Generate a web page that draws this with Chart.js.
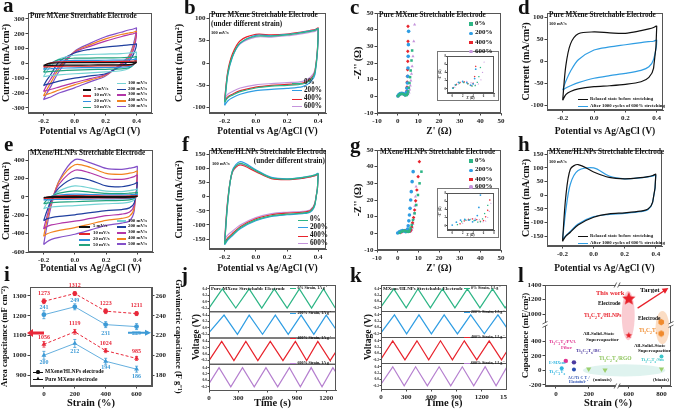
<!DOCTYPE html>
<html>
<head>
<meta charset="utf-8">
<title>Stretchable MXene electrodes</title>
<script src="https://cdn.jsdelivr.net/npm/chart.js@4.4.1/dist/chart.umd.min.js"></script>
<style>
  html, body { margin: 0; padding: 0; background: #fff; }
  body { width: 676px; height: 410px; overflow: hidden; position: relative; font-family: "Liberation Serif", "Times New Roman", serif; }
  canvas { position: absolute; }
  .tx { position: absolute; font-weight: bold; white-space: nowrap; line-height: 1; color: #111; }
  .tx sub, .tx sup { font-size: 70%; line-height: 0; }
  .vt { position: absolute; font-weight: bold; white-space: nowrap; line-height: 1; color: #111; transform: translate(-50%, -50%) rotate(-90deg); }
  .seg { position: absolute; }
</style>
</head>
<body>
<script>
/* ---------- CV data (potential grid shared by every loop) ---------- */
const cvX = [-0.2, -0.18, -0.15, -0.1, 0, 0.1, 0.2, 0.3, 0.35, 0.38, 0.4];

const rateNames = ['5 mV/s', '10 mV/s', '20 mV/s', '50 mV/s', '100 mV/s', '200 mV/s', '300 mV/s', '400 mV/s', '500 mV/s'];
const rateColors = ['#111111', '#e3262b', '#2f8fe0', '#23a37e', '#74d2d4', '#1f3f9f', '#b236a8', '#f2831f', '#8450c8'];

// a: pure MXene, forward (upper) and reverse (lower) branches
const aUp = [
  [-15, -4, 2, 4, 5, 5, 5, 6, 6, 7, 8],
  [-25, -8, 4, 10, 12, 12, 12, 13, 14, 15, 17],
  [-40, -15, 4, 15, 20, 20, 21, 22, 24, 26, 30],
  [-60, -30, 0, 25, 35, 36, 37, 38, 40, 42, 45],
  [-90, -55, -15, 30, 55, 60, 63, 66, 70, 72, 75],
  [-150, -115, -70, 10, 70, 95, 110, 120, 125, 127, 130],
  [-190, -150, -100, -20, 75, 115, 150, 180, 193, 200, 205],
  [-220, -180, -125, -35, 78, 125, 165, 195, 205, 210, 215],
  [-245, -205, -150, -55, 80, 135, 180, 210, 225, 232, 238]
];
const aDown = [
  [-15, -14, -13, -12, -12, -11, -10, -10, -9, -5, 8],
  [-25, -24, -22, -20, -19, -18, -17, -16, -14, -6, 17],
  [-40, -38, -36, -33, -30, -29, -28, -26, -22, -8, 30],
  [-60, -57, -54, -50, -45, -42, -40, -37, -30, -10, 45],
  [-90, -86, -82, -77, -70, -64, -58, -50, -35, 0, 75],
  [-150, -142, -135, -120, -100, -85, -70, -20, 15, 60, 130],
  [-190, -183, -175, -160, -130, -103, -75, -10, 30, 90, 205],
  [-220, -210, -200, -180, -145, -113, -80, -5, 40, 110, 215],
  [-245, -236, -225, -200, -165, -125, -85, 0, 50, 130, 238]
];

// e: MXene/HLNPs
const eUp = [
  [-8, -2, 2, 4, 5, 4, 3, 3, 4, 5, 6],
  [-18, -6, 4, 10, 13, 11, 9, 9, 10, 11, 13],
  [-35, -15, 5, 20, 29, 25, 21, 21, 23, 24, 26],
  [-75, -35, 5, 40, 65, 52, 38, 36, 40, 44, 47],
  [-130, -75, -5, 65, 120, 95, 62, 58, 68, 76, 84],
  [-260, -160, -30, 100, 205, 180, 120, 110, 125, 140, 155],
  [-350, -220, -40, 140, 290, 260, 200, 190, 205, 220, 235],
  [-430, -270, -60, 170, 350, 320, 255, 245, 258, 268, 280],
  [-520, -330, -90, 180, 405, 370, 310, 300, 312, 320, 330]
];
const eDown = [
  [-8, -7, -7, -6, -6, -6, -5, -5, -4, -2, 6],
  [-18, -16, -15, -14, -13, -12, -11, -10, -9, -4, 13],
  [-35, -32, -30, -28, -26, -24, -22, -20, -17, -8, 26],
  [-75, -68, -63, -58, -53, -47, -42, -38, -32, -15, 47],
  [-130, -118, -110, -103, -95, -85, -75, -68, -58, -30, 84],
  [-260, -240, -225, -212, -195, -172, -150, -138, -120, -65, 155],
  [-350, -325, -305, -290, -265, -235, -205, -188, -165, -90, 235],
  [-430, -405, -385, -365, -335, -295, -255, -235, -210, -120, 280],
  [-520, -490, -462, -440, -407, -360, -310, -285, -260, -150, 330]
];

const strainNames = ['0%', '200%', '400%', '600%'];
const strainColors = ['#2db585', '#2f9de3', '#e8232c', '#c594dc'];

const bUp = [
  [-88, -25, 15, 45, 60, 60, 63, 68, 71, 73, 76],
  [-95, -28, 13, 44, 62, 61, 64, 69, 72, 74, 77],
  [-85, -20, 20, 50, 64, 63, 65, 70, 73, 75, 78],
  [-80, -22, 15, 43, 58, 58, 61, 66, 69, 71, 74]
];
const bDown = [
  [-88, -78, -72, -64, -56, -52, -50, -47, -38, -20, 76],
  [-95, -85, -78, -70, -62, -59, -57, -53, -43, -25, 77],
  [-85, -76, -70, -62, -54, -50, -48, -45, -36, -18, 78],
  [-80, -70, -64, -56, -49, -46, -44, -41, -32, -15, 74]
];
const fUp = [
  [-168, -20, 90, 118, 92, 66, 62, 67, 72, 76, 80],
  [-170, -25, 92, 124, 95, 68, 63, 68, 73, 77, 82],
  [-162, -15, 88, 112, 88, 64, 60, 65, 70, 74, 78],
  [-150, -10, 85, 115, 90, 66, 61, 65, 70, 74, 77]
];
const fDown = [
  [-168, -150, -135, -110, -82, -68, -62, -58, -52, -25, 80],
  [-170, -154, -138, -113, -85, -70, -64, -60, -54, -27, 82],
  [-162, -146, -130, -106, -78, -64, -58, -55, -49, -22, 78],
  [-150, -136, -122, -100, -74, -60, -55, -52, -46, -20, 77]
];

const cycleNames = ['Relaxed state before stretching', 'After 1000 cycles of 600% stretching'];
const cycleColors = ['#111111', '#2f9de3'];
const dUp = [[-88, -10, 40, 63, 67, 65, 64, 70, 74, 77, 80], [-65, -45, -22, 4, 26, 33, 38, 43, 45, 46, 48]];
const dDown = [[-88, -75, -68, -62, -57, -55, -52, -46, -36, -15, 80], [-65, -60, -55, -48, -38, -32, -27, -20, -12, 5, 48]];
const hUp = [[-168, -10, 95, 112, 85, 65, 60, 64, 68, 72, 76], [-162, -60, 40, 90, 100, 70, 60, 63, 67, 70, 72]];
const hDown = [[-168, -150, -135, -108, -80, -68, -64, -58, -50, -25, 76], [-162, -148, -132, -105, -78, -70, -66, -60, -52, -25, 72]];

/* ---------- Nyquist data ---------- */
const cRe = [
  [0.2, 0.7, 1.4, 2.2, 3.0, 3.8, 4.4, 4.8, 5.1, 5.4, 5.7, 6.0, 6.3, 6.7, 7.0],
  [0.1, 0.6, 1.2, 2.0, 2.8, 3.5, 4.0, 4.3, 4.5, 4.7, 4.9, 5.0, 5.1, 5.2, 5.3],
  [0.2, 0.8, 1.5, 2.3, 3.0, 3.6, 4.0, 4.3, 4.5, 4.6, 4.7, 4.8, 4.9, 4.9, 5.0, 5.0],
  [0.5, 1.2, 2.0, 2.8, 3.6, 4.4, 5.0, 5.5, 5.8, 6.1, 6.4, 6.7, 7.0, 7.4, 7.8, 8.2]
];
const cIm = [
  [0.2, 0.9, 1.4, 1.5, 1.2, 0.7, 0.8, 1.6, 3.0, 5.2, 8.0, 11.5, 15.5, 21.5, 27.5],
  [0.2, 1.0, 1.6, 1.8, 1.5, 0.9, 1.2, 2.5, 4.8, 8, 12, 17, 24, 31, 39],
  [0.3, 1.1, 1.6, 1.7, 1.3, 0.8, 1.4, 3, 5.5, 8.5, 12, 16, 21, 27, 33, 42],
  [0.4, 1.2, 1.7, 1.8, 1.5, 1.0, 1.2, 2.2, 4, 6.5, 9.5, 13.5, 18, 24, 33, 43]
];
const gRe = [
  [1.0, 1.8, 2.6, 3.4, 4.2, 4.9, 5.4, 5.8, 6.2, 6.8, 7.4, 8.2, 9.0, 9.8, 10.6, 11.5],
  [0, 0.8, 1.6, 2.4, 3.2, 3.9, 4.4, 4.8, 5.1, 5.4, 5.7, 6.0, 6.3, 6.6, 7.0, 7.5],
  [1.5, 2.3, 3.1, 3.9, 4.7, 5.4, 6.0, 6.4, 6.8, 7.2, 7.7, 8.2, 8.7, 9.3, 9.9, 10.5],
  [2.0, 2.8, 3.6, 4.4, 5.2, 5.9, 6.4, 6.8, 7.1, 7.4, 7.7, 8.0, 8.3, 8.6, 8.9]
];
const gIm = [
  [0.3, 1.0, 1.4, 1.5, 1.3, 0.9, 1.0, 1.7, 3.0, 5.0, 8.0, 12, 17, 23, 30, 37],
  [0.2, 0.9, 1.4, 1.6, 1.4, 1.0, 1.4, 2.5, 4.5, 7.5, 11, 15, 20, 25, 31, 37],
  [0.5, 1.2, 1.6, 1.7, 1.5, 1.1, 1.3, 2.2, 3.8, 6.3, 9.5, 14, 19.5, 26, 34, 43],
  [0.6, 1.3, 1.7, 1.8, 1.5, 1.0, 1.2, 2.0, 3.5, 5.5, 8.5, 12, 16.5, 22, 28]
];
const nyqStyles = ['rect', 'circle', 'rectRot', 'triangle'];

/* ---------- capacitance vs strain ---------- */
const iStrain = [0, 200, 400, 600];
const iAreaH = [1273, 1312, 1223, 1211];
const iAreaP = [1056, 1119, 1024, 985];
const iGravH = [241, 249, 231, 229];
const iGravP = [200, 212, 194, 186];
const iErrAreaH = [12, 10, 12, 10];
const iErrAreaP = [14, 12, 10, 10];
const iErrGravH = [4, 3, 3, 3];
const iErrGravP = [4, 4, 3, 3];

/* ---------- GCD vertices (time s, voltage V) ---------- */
const jT = [
  [0, 137, 274, 411, 540, 668, 800, 925, 1050, 1172, 1292],
  [0, 154, 291, 411, 548, 679, 811, 943, 1073, 1200, 1300],
  [0, 130, 255, 377, 500, 627, 757, 884, 1000, 1114, 1240, 1300],
  [0, 103, 223, 343, 463, 583, 703, 823, 935, 1046, 1157, 1268, 1300]
];
const jV = [
  [-0.2, 0.4, -0.2, 0.4, -0.2, 0.4, -0.2, 0.4, -0.2, 0.4, -0.2],
  [-0.15, 0.4, -0.2, 0.4, -0.2, 0.4, -0.2, 0.4, -0.2, 0.4, -0.05],
  [-0.2, 0.4, -0.2, 0.4, -0.2, 0.4, -0.2, 0.4, -0.2, 0.4, -0.2, 0.08],
  [-0.1, 0.4, -0.2, 0.4, -0.2, 0.4, -0.2, 0.4, -0.2, 0.4, -0.2, 0.4, 0.25]
];
const kT = [
  [0, 152, 300, 440, 588, 732, 880, 1028, 1178, 1328, 1478, 1500],
  [0, 160, 305, 452, 600, 752, 910, 1068, 1230, 1392, 1500],
  [0, 140, 285, 428, 568, 708, 850, 992, 1140, 1288, 1435, 1500],
  [0, 140, 276, 412, 552, 692, 830, 968, 1104, 1240, 1370, 1500]
];
const kV = [
  [-0.17, 0.4, -0.2, 0.4, -0.2, 0.4, -0.2, 0.4, -0.2, 0.4, -0.2, -0.12],
  [-0.17, 0.4, -0.2, 0.4, -0.2, 0.4, -0.2, 0.4, -0.2, 0.4, -0.02],
  [-0.18, 0.4, -0.2, 0.4, -0.2, 0.4, -0.2, 0.4, -0.2, 0.4, -0.2, 0.08],
  [-0.15, 0.4, -0.2, 0.4, -0.2, 0.4, -0.2, 0.4, -0.2, 0.4, -0.2, 0.4]
];
const gcdNames = ['0% Strain, 1A g<sup>-1</sup>', '200% Strain, 1A g<sup>-1</sup>', '400% Strain, 1A g<sup>-1</sup>', '600% Strain, 1A g<sup>-1</sup>'];
const gcdColors = ['#2db585', '#2f9de3', '#e8232c', '#b57fcf'];

/* ---------- comparison (broken axes) ---------- */
const lXTicks = [0, 200, 600, 800];
const lYTicks = [-200, 0, 200, 400, 1000, 1200, 1400];
const lWorkX = [600, 600], lWorkY = [1210, 480];
const lTiX = [800, 800], lTiY = [886, 500];
const lRgoX = [200, 300, 800], lRgoY = [20, 5, 20];
const lPvaX = [60], lPvaY = [130];
const lBcX = [110], lBcY = [110];
const lAcX = [110], lAcY = [10];
const lEmX = [35], lEmY = [30];
const lSmX = [800], lSmY = [190];
const lZones = [
  {x1: 557, x2: 636, y1: 414, y2: 1318, color: 'rgba(240,110,125,0.35)'},
  {x1: 763, x2: 848, y1: 359, y2: 1042, color: 'rgba(245,165,100,0.38)'},
  {x1: 164, x2: 824, y1: -83, y2: 83, color: 'rgba(175,225,215,0.4)'}
];
const lTarget = {x1: 654, y1: 1083, x2: 842, y2: 1359};
function mapX(v) { return v > 450 ? v - 155 : v; }
function mapY(v) { return v > 650 ? v - 228 : v; }

/* ---------- Chart.js setup ---------- */
Chart.defaults.font.family = '"Liberation Serif", "Times New Roman", serif';
Chart.defaults.font.weight = 'bold';
Chart.defaults.color = '#222';
Chart.defaults.animation = false;
Chart.defaults.responsive = false;
Chart.defaults.devicePixelRatio = 1;
Chart.defaults.plugins.legend.display = false;
Chart.defaults.plugins.tooltip.enabled = false;

function stepTicks(min, max, step) {
  const t = [];
  for (let v = Math.ceil(min / step - 1e-9) * step; v <= max + 1e-9; v += step) t.push({value: Math.round(v * 1e6) / 1e6});
  return t;
}

function axis(o) {
  return Object.assign({
    type: 'linear', min: o.min, max: o.max, position: o.pos,
    ticks: {autoSkip: false, maxRotation: 0, padding: o.pad === undefined ? 1 : o.pad,
            font: {size: o.fs || 7}, color: '#222', callback: o.fmt || (v => v)},
    grid: {drawOnChartArea: false, tickLength: o.tl || 2.5, color: '#444', tickColor: '#444'},
    border: {color: '#555'},
    title: o.title ? {display: true, text: o.title, font: {size: o.ts || 10}, padding: {top: 0, bottom: 0}, color: '#111'} : {display: false},
    afterBuildTicks: s => { if (o.step) s.ticks = stepTicks(o.min, o.max, o.step); },
    afterFit: s => {
      if (s.isHorizontal()) s.height = o.size; else s.width = o.size;
      s.paddingLeft = 0; s.paddingRight = 0; s.paddingTop = 0; s.paddingBottom = 0;
    }
  }, o.extra || {});
}

function framePlugin(stacked) {
  return {id: 'frame', afterDraw(c) {
    const a = c.chartArea, g = c.ctx;
    g.save(); g.strokeStyle = '#555'; g.lineWidth = 1;
    if (stacked) {
      Object.values(c.scales).forEach(s => { if (!s.isHorizontal()) g.strokeRect(a.left + 0.5, s.top + 0.5, a.width - 1, s.bottom - s.top); });
    } else {
      g.strokeRect(a.left + 0.5, a.top + 0.5, a.width - 1, a.height - 1);
    }
    g.restore();
  }};
}

function makeChart(cv, box, spec) {
  const el = document.createElement('canvas');
  el.width = cv.w; el.height = cv.h;
  el.style.left = cv.x + 'px'; el.style.top = cv.y + 'px';
  if (cv.bg) el.style.background = cv.bg;
  if (cv.outline) el.style.outline = cv.outline;
  document.body.appendChild(el);
  return new Chart(el, {
    type: spec.type || 'line',
    data: {datasets: spec.datasets},
    options: {
      layout: {padding: {left: 0, top: box.T - cv.y, right: cv.x + cv.w - box.R - (spec.rightAxis || 0), bottom: 0}},
      scales: spec.scales
    },
    plugins: [framePlugin(spec.stacked)].concat(spec.plugins || [])
  });
}

function loop(up, dn) {
  const pts = cvX.map((x, i) => ({x, y: up[i]}));
  for (let i = cvX.length - 2; i >= 0; i--) pts.push({x: cvX[i], y: dn[i]});
  return pts;
}
function loopSets(up, dn, colors, w) {
  return up.map((u, k) => ({data: loop(u, dn[k]), borderColor: colors[k], borderWidth: w || 1.2, tension: 0.3, pointRadius: 0, fill: false}));
}

function cvChart(cv, box, xr, yr, ystep, sets) {
  return makeChart(cv, box, {
    datasets: sets,
    scales: {
      x: axis({min: xr[0], max: xr[1], step: 0.2, size: cv.y + cv.h - box.B, fmt: v => v.toFixed(1), title: 'Potential vs Ag/AgCl (V)', ts: 9.5}),
      y: axis({min: yr[0], max: yr[1], step: ystep, size: box.L - cv.x, title: 'Current (mA/cm²)', ts: 10})
    }
  });
}

function nyqSets(re, im, r) {
  return re.map((xs, k) => ({data: xs.map((x, i) => ({x, y: im[k][i]})), backgroundColor: strainColors[k], borderColor: strainColors[k],
    borderWidth: 0, pointRadius: r, pointStyle: nyqStyles[k], showLine: false}));
}
function nyqChart(cv, box, re, im) {
  return makeChart(cv, box, {
    type: 'scatter', datasets: nyqSets(re, im, 1.8),
    scales: {
      x: axis({min: -10, max: 50, step: 10, size: cv.y + cv.h - box.B, title: "Z' (Ω)", ts: 9.5}),
      y: axis({min: -10, max: 50, step: 10, size: box.L - cv.x, title: "-Z'' (Ω)", ts: 10})
    }
  });
}
function insetChart(cv, box, re, im) {
  return makeChart(cv, box, {
    type: 'scatter', datasets: nyqSets(re, im, 0.9),
    scales: {
      x: axis({min: -1, max: 8, step: 2, size: cv.y + cv.h - box.B, fs: 3, tl: 1, pad: 0, title: "Z' (Ω)", ts: 3}),
      y: axis({min: -1, max: 8, step: 2, size: box.L - cv.x, fs: 3, tl: 1, pad: 0, title: "-Z'' (Ω)", ts: 3})
    }
  });
}

function gcdChart(cv, box, xmax, T, V) {
  const scales = {x: axis({min: 0, max: xmax, step: 300, size: cv.y + cv.h - box.B, title: 'Time (s)', ts: 10.5})};
  // stacked axes are laid out bottom-up, so the last curve is declared first
  for (let k = T.length - 1; k >= 0; k--) {
    scales['v' + k] = axis({min: -0.3, max: 0.52, step: 0.2, size: box.L - cv.x, fs: 3.6, tl: 1.5, pad: 0.5, fmt: v => v.toFixed(1),
      extra: {stack: 'gcd', stackWeight: 1, offset: false}});
  }
  return makeChart(cv, box, {
    stacked: true, scales,
    datasets: T.map((t, k) => ({data: t.map((x, i) => ({x, y: V[k][i]})), yAxisID: 'v' + k, borderColor: gcdColors[k], borderWidth: 1.2, pointRadius: 0, tension: 0}))
  });
}

/* ---------- html text helpers ---------- */
function txt(x, y, html, size, color, extra) {
  const d = document.createElement('div');
  d.className = 'tx'; d.innerHTML = html;
  d.style.left = x + 'px'; d.style.top = y + 'px'; d.style.fontSize = size + 'px';
  if (color) d.style.color = color;
  if (extra) d.style.cssText += extra;
  document.body.appendChild(d);
  return d;
}
function vtxt(cx, cy, html, size) {
  const d = document.createElement('div');
  d.className = 'vt'; d.innerHTML = html;
  d.style.left = cx + 'px'; d.style.top = cy + 'px'; d.style.fontSize = size + 'px';
  document.body.appendChild(d);
}
function seg(x1, x2, y, color, h) {
  const d = document.createElement('div');
  d.className = 'seg';
  d.style.cssText = `left:${x1}px;top:${y - h / 2}px;width:${x2 - x1}px;height:${h}px;background:${color}`;
  document.body.appendChild(d);
}
function mark(cx, cy, r, color, round) {
  const d = document.createElement('div');
  d.className = 'seg';
  d.style.cssText = `left:${cx - r}px;top:${cy - r}px;width:${2 * r}px;height:${2 * r}px;background:${color};border-radius:${round ? '50%' : '0'}`;
  document.body.appendChild(d);
}
function lineLegend(names, colors, rows, x1, x2, tx, size, lw) {
  names.forEach((n, k) => { seg(x1, x2, rows[k], colors[k], lw); txt(tx, rows[k] - size * 0.58, n, size); });
}
function letter(x, y, s) { txt(x, y, s, 21, '#111'); }

/* ---------- a ---------- */
cvChart({x: 0, y: 0, w: 169, h: 137}, {L: 28, T: 13, R: 152, B: 113}, [-0.3, 0.5], [-335, 340], 100, loopSets(aUp, aDown, rateColors));
/* ---------- b ---------- */
cvChart({x: 173, y: 0, w: 165, h: 137}, {L: 209, T: 13, R: 326, B: 113}, [-0.3, 0.45], [-112, 112], 50, loopSets(bUp, bDown, strainColors));
/* ---------- d ---------- */
cvChart({x: 520, y: 0, w: 156, h: 137}, {L: 547, T: 13, R: 663, B: 110}, [-0.3, 0.44], [-110, 110], 50, loopSets(dUp, dDown, cycleColors));
/* ---------- e ---------- */
cvChart({x: 0, y: 137, w: 169, h: 137}, {L: 28, T: 150, R: 153, B: 252}, [-0.3, 0.5], [-600, 510], 200, loopSets(eUp, eDown, rateColors));
/* ---------- f ---------- */
cvChart({x: 173, y: 137, w: 165, h: 137}, {L: 209, T: 150, R: 326, B: 249}, [-0.3, 0.45], [-185, 165], 50, loopSets(fUp, fDown, strainColors));
/* ---------- h ---------- */
cvChart({x: 520, y: 137, w: 156, h: 137}, {L: 547, T: 150, R: 662, B: 246}, [-0.3, 0.44], [-185, 165], 50, loopSets(hUp, hDown, cycleColors));

/* ---------- c, g ---------- */
nyqChart({x: 352, y: 0, w: 155, h: 137}, {L: 377, T: 13, R: 501, B: 113}, cRe, cIm);
insetChart({x: 438, y: 52, w: 60, h: 48, bg: '#fff', outline: '1px solid #777'}, {L: 447, T: 54, R: 496, B: 93}, cRe, cIm);
nyqChart({x: 352, y: 137, w: 155, h: 137}, {L: 377, T: 150, R: 501, B: 250}, gRe, gIm);
insetChart({x: 438, y: 189, w: 60, h: 48, bg: '#fff', outline: '1px solid #777'}, {L: 447, T: 191, R: 496, B: 230}, gRe, gIm);

/* ---------- i ---------- */
const iRed = '#e8283a', iBlue = '#3d9ad6';
const iSeries = [iAreaH, iAreaP, iGravH, iGravP];
function iLabels() {
  const items = [
    {color: iRed, dy: [-8, -8, -8, -8]},
    {color: iRed, dy: [-7, -8, -7, -7]},
    {color: iBlue, dy: [-7, -6, 9, 7]},
    {color: iBlue, dy: [7, 8, 6, 7]}
  ];
  return {id: 'iLabels', afterDatasetsDraw(c) {
    const g = c.ctx; g.save();
    g.font = 'bold 6px "Liberation Serif"'; g.textAlign = 'center'; g.textBaseline = 'middle';
    items.forEach((it, k) => {
      g.fillStyle = it.color;
      c.getDatasetMeta(k).data.forEach((p, i) => g.fillText(String(iSeries[k][i]), p.x, p.y + it.dy[i]));
    });
    g.restore();
  }};
}
function iErrors() {
  const errs = [iErrAreaH, iErrAreaP, iErrGravH, iErrGravP];
  return {id: 'iErr', beforeDatasetsDraw(c) {
    const g = c.ctx; g.save(); g.lineWidth = 0.8;
    errs.forEach((e, k) => {
      const meta = c.getDatasetMeta(k), ys = meta.yScale;
      g.strokeStyle = c.data.datasets[k].borderColor;
      iSeries[k].forEach((v, i) => {
        const x = meta.data[i].x, y1 = ys.getPixelForValue(v - e[i]), y2 = ys.getPixelForValue(v + e[i]);
        g.beginPath(); g.moveTo(x, y1); g.lineTo(x, y2); g.moveTo(x - 1.5, y1); g.lineTo(x + 1.5, y1); g.moveTo(x - 1.5, y2); g.lineTo(x + 1.5, y2); g.stroke();
      });
    });
    g.restore();
  }};
}
function arrow(g, x1, y, x2, color, shaft, head, headLen) {
  const dir = Math.sign(x2 - x1);
  g.fillStyle = color; g.beginPath();
  g.moveTo(x1, y - shaft / 2); g.lineTo(x2 - dir * headLen, y - shaft / 2); g.lineTo(x2 - dir * headLen, y - head / 2);
  g.lineTo(x2, y); g.lineTo(x2 - dir * headLen, y + head / 2); g.lineTo(x2 - dir * headLen, y + shaft / 2); g.lineTo(x1, y + shaft / 2);
  g.closePath(); g.fill();
}
const iArrowLevels = [1113, 222.7];
function iArrows() {
  return {id: 'iArrows', afterDraw(c) {
    const g = c.ctx, a = c.chartArea;
    arrow(g, a.left + 14, c.scales.yL.getPixelForValue(iArrowLevels[0]), a.left - 3, iRed, 3, 8, 6);
    arrow(g, a.right - 24, c.scales.yR.getPixelForValue(iArrowLevels[1]), a.right - 1, iBlue, 2, 6, 6);
  }};
}
const iStyle = [
  {axis: 'yL', color: iRed, dash: [3, 2], w: 1, shape: 'circle', r: 2.4},
  {axis: 'yL', color: iRed, dash: [3, 2], w: 1, shape: 'triangle', r: 2.8},
  {axis: 'yR', color: iBlue, dash: [], w: 0.8, shape: 'circle', r: 2.4},
  {axis: 'yR', color: iBlue, dash: [], w: 0.8, shape: 'triangle', r: 2.8}
];
makeChart({x: 0, y: 273, w: 183, h: 137}, {L: 30, T: 287, R: 152, B: 386}, {
  rightAxis: 31,
  datasets: iSeries.map((s, k) => ({
    data: s.map((v, i) => ({x: iStrain[i], y: v})), yAxisID: iStyle[k].axis,
    borderColor: iStyle[k].color, backgroundColor: iStyle[k].color, borderDash: iStyle[k].dash, borderWidth: iStyle[k].w,
    pointRadius: iStyle[k].r, pointStyle: iStyle[k].shape, pointBorderWidth: 0
  })),
  scales: {
    x: axis({min: -90, max: 700, step: 200, size: 24, title: 'Strain (%)', ts: 10.5}),
    yL: axis({min: 846, max: 1345, step: 100, size: 30, pos: 'left', title: 'Area capacitance (mF cm⁻²)', ts: 8.5}),
    yR: axis({min: 169, max: 269, step: 20, size: 31, pos: 'right', title: 'Gravimetric capacitance (F g⁻¹)', ts: 8.5})
  },
  plugins: [iErrors(), iLabels(), iArrows()]
});

/* ---------- j, k ---------- */
gcdChart({x: 185, y: 273, w: 153, h: 137}, {L: 209, T: 285, R: 336, B: 390}, 1300, jT, jV);
gcdChart({x: 338, y: 273, w: 169, h: 137}, {L: 381, T: 285, R: 507, B: 389}, 1500, kT, kV);

/* ---------- l ---------- */
function shapeImg(r, color, n, inner) {
  const c = document.createElement('canvas');
  c.width = c.height = Math.ceil(2 * r + 2);
  const g = c.getContext('2d'); g.fillStyle = color; g.beginPath();
  const m = inner ? 2 * n : n;
  for (let k = 0; k < m; k++) {
    const a = -Math.PI / 2 + k * 2 * Math.PI / m, rr = inner && k % 2 ? r * inner : r;
    g.lineTo(r + 1 + rr * Math.cos(a), r + 1 + rr * Math.sin(a));
  }
  g.closePath(); g.fill();
  return c;
}
function pts(xs, ys) { return xs.map((x, i) => ({x: mapX(x), y: mapY(ys[i])})); }
function lDecor() {
  return {id: 'lDecor',
    beforeDatasetsDraw(c) {
      const g = c.ctx, xs = c.scales.x, ys = c.scales.y;
      g.save();
      lZones.forEach(z => {
        const x1 = xs.getPixelForValue(mapX(z.x1)), x2 = xs.getPixelForValue(mapX(z.x2));
        const y1 = ys.getPixelForValue(mapY(z.y1)), y2 = ys.getPixelForValue(mapY(z.y2));
        g.fillStyle = z.color; g.beginPath();
        g.ellipse((x1 + x2) / 2, (y1 + y2) / 2, Math.abs(x2 - x1) / 2, Math.abs(y2 - y1) / 2, 0, 0, 2 * Math.PI); g.fill();
      });
      g.restore();
    },
    afterDraw(c) {
      const g = c.ctx, xs = c.scales.x, ys = c.scales.y, a = c.chartArea;
      g.save();
      const x1 = xs.getPixelForValue(mapX(lTarget.x1)), y1 = ys.getPixelForValue(mapY(lTarget.y1));
      const x2 = xs.getPixelForValue(mapX(lTarget.x2)), y2 = ys.getPixelForValue(mapY(lTarget.y2));
      const ang = Math.atan2(y2 - y1, x2 - x1);
      g.strokeStyle = '#e8202a'; g.fillStyle = '#e8202a'; g.lineWidth = 1.3;
      g.beginPath(); g.moveTo(x1, y1); g.lineTo(x2 - 4 * Math.cos(ang), y2 - 4 * Math.sin(ang)); g.stroke();
      g.beginPath(); g.moveTo(x2, y2);
      g.lineTo(x2 - 6 * Math.cos(ang) + 3 * Math.sin(ang), y2 - 6 * Math.sin(ang) - 3 * Math.cos(ang));
      g.lineTo(x2 - 6 * Math.cos(ang) - 3 * Math.sin(ang), y2 - 6 * Math.sin(ang) + 3 * Math.cos(ang));
      g.closePath(); g.fill();
      const bx = xs.getPixelForValue(374), by = ys.getPixelForValue(630);
      g.strokeStyle = '#555'; g.lineWidth = 0.9;
      [a.top, a.bottom].forEach(yy => {
        g.fillStyle = '#fff'; g.fillRect(bx - 1.5, yy - 2, 3, 4);
        g.beginPath(); g.moveTo(bx - 3, yy + 2.5); g.lineTo(bx - 0.5, yy - 2.5); g.moveTo(bx + 0.5, yy + 2.5); g.lineTo(bx + 3, yy - 2.5); g.stroke();
      });
      [a.left, a.right].forEach(xx => {
        g.fillStyle = '#fff'; g.fillRect(xx - 2, by - 1.5, 4, 3);
        g.beginPath(); g.moveTo(xx - 2.5, by - 0.5); g.lineTo(xx + 2.5, by - 3); g.moveTo(xx - 2.5, by + 3); g.lineTo(xx + 2.5, by + 0.5); g.stroke();
      });
      g.restore();
    }
  };
}
const starBig = shapeImg(7, '#e8202a', 5, 0.45), starSmall = shapeImg(3.5, '#e8202a', 5, 0.45);
const hexImg = shapeImg(3.2, '#f08a2c', 6, 0);
makeChart({x: 520, y: 273, w: 156, h: 137}, {L: 545, T: 285, R: 672, B: 386}, {
  type: 'scatter',
  datasets: [
    {data: pts(lWorkX, lWorkY), pointStyle: [starBig, starSmall]},
    {data: pts(lTiX, lTiY), pointStyle: hexImg},
    {data: pts(lRgoX, lRgoY), pointStyle: 'triangle', rotation: 180, radius: 3, backgroundColor: '#9ccf6e', borderWidth: 0},
    {data: pts(lPvaX, lPvaY), radius: 2.2, backgroundColor: '#e0338f', borderWidth: 0},
    {data: pts(lBcX, lBcY), radius: 2.2, backgroundColor: '#4b3aa0', borderWidth: 0},
    {data: pts(lAcX, lAcY), radius: 2, backgroundColor: '#2a4fb0', borderWidth: 0},
    {data: pts(lEmX, lEmY), radius: 2, backgroundColor: '#31b5e0', borderWidth: 0},
    {data: pts(lSmX, lSmY), radius: 2, backgroundColor: '#3cc6c9', borderWidth: 0}
  ],
  scales: {
    x: axis({min: -67, max: 703, size: 24, title: 'Strain (%)', ts: 10.5, fmt: (v, i) => lXTicks[i],
      extra: {afterBuildTicks: s => { s.ticks = lXTicks.map(v => ({value: mapX(v)})); }}}),
    y: axis({min: -215, max: 1172, size: 25, title: 'Capacitance (mF/cm²)', ts: 9, fmt: (v, i) => lYTicks[i],
      extra: {afterBuildTicks: s => { s.ticks = lYTicks.map(v => ({value: mapY(v)})); }}})
  },
  plugins: [lDecor()]
});

/* ---------- panel letters ---------- */
letter(3, -5, 'a'); letter(184, -3, 'b'); letter(350, -3, 'c'); letter(518, -3, 'd');
letter(4, 134, 'e'); letter(182, 134, 'f'); letter(350, 135, 'g'); letter(518, 134, 'h');
letter(4, 264, 'i'); letter(181, 265, 'j'); letter(350, 265, 'k'); letter(518, 265, 'l');

/* ---------- in-plot titles ---------- */
txt(30, 12.5, 'Pure MXene Stretchable Electrode', 7.2);
txt(211, 12, 'Pure MXene Stretchable Electrode', 7.2);
txt(211, 21, '(under different strain)', 7.2);
txt(211, 31, '100 mV/s', 4.5);
txt(379, 12, 'Pure MXene Stretchable Electrode', 7.2);
txt(549, 12, 'Pure MXene Stretchable Electrode', 7.2);
txt(549, 22, '100 mV/s', 4.5);
txt(30, 149.5, 'MXene/HLNPs Stretchable Electrode', 7.2);
txt(211, 149, 'MXene/HLNPs Stretchable Electrode', 7.2);
txt(325, 158, '(under different strain)', 7.2, null, 'transform:translateX(-100%)');
txt(212, 161.5, '100 mV/s', 4.5);
txt(380, 149, 'MXene/HLNPs Stretchable Electrode', 7.2);
txt(549, 149, 'MXene/HLNPs Stretchable Electrode', 7.2);
txt(549, 160, '100 mV/s', 4.5);
txt(211, 286, 'Pure MXene Stretchable Electrode', 5);
txt(383, 286, 'MXene/HLNPs Stretchable Electrode', 5);

/* ---------- legends ---------- */
lineLegend(rateNames.slice(0, 4), rateColors.slice(0, 4), [90, 96, 101.7, 107.7], 83, 91, 94, 4.8, 1.5);
lineLegend(rateNames.slice(4), rateColors.slice(4), [83.3, 89.3, 95, 101, 106.7], 117, 126, 128, 4.8, 1.5);
lineLegend(rateNames.slice(0, 4), rateColors.slice(0, 4), [227, 233.7, 239.7, 245.3], 79, 90, 93, 4.8, 2);
lineLegend(rateNames.slice(4), rateColors.slice(4), [221.3, 227, 233, 238.7, 244.3], 117, 126, 128, 4.8, 2);
lineLegend(strainNames, strainColors, [83.3, 90.7, 99.3, 106.7], 292, 302, 304, 7.2, 1.6);
lineLegend(strainNames, strainColors, [220.3, 227.7, 236.3, 243.7], 298, 308, 310, 7.2, 1.6);
lineLegend(cycleNames, cycleColors, [99.3, 106.7], 578, 588, 590, 4.8, 1.3);
lineLegend(cycleNames, cycleColors, [236.3, 243.7], 578, 588, 590, 4.8, 1.3);
[[24, 33.3, 42.7, 51.7], [161, 170.3, 179.7, 187]].forEach(rows => {
  strainNames.forEach((n, k) => { mark(471, rows[k], 1.6, strainColors[k], k % 2 === 1); txt(475, rows[k] - 4, n, 7); });
});
lineLegend(gcdNames, gcdColors, [288, 313, 338.7, 363.7], 290, 296, 297.5, 4, 1);
lineLegend(gcdNames, gcdColors, [288, 312, 337, 363], 464, 470, 471, 4, 1);
seg(33, 43, 372, '#111', 0.8); mark(38, 372, 1.6, '#111', true); txt(45, 369, 'MXene/HLNPs electrode', 5.5);
seg(33, 43, 379.5, '#111', 0.8); txt(35.7, 376.2, '▲', 4.5); txt(45, 376.5, 'Pure MXene electrode', 5.5);

/* ---------- j/k axis titles ---------- */
vtxt(197, 337, 'Voltage (V)', 9.5);
vtxt(369, 337, 'Voltage (V)', 9.5);

/* ---------- l annotations ---------- */
const T3 = 'Ti<sub>3</sub>C<sub>2</sub>T<sub>x</sub>';
txt(596, 290, 'This work', 6.5, '#e8202a');
txt(640, 287, 'Target', 7);
txt(598, 301, 'Electrode', 5.5);
txt(584, 313, T3 + '/HLNPs', 5.5, '#e8202a');
txt(583, 331, 'All-Solid-State', 5);
txt(586, 337, 'Supercapacitor', 5);
txt(638, 315.5, 'Electrode', 5.5);
txt(639, 327.5, T3, 5.5, '#f08a2c');
txt(634, 342.5, 'All-Solid-State', 5);
txt(638, 347.5, 'Supercapacitor', 5);
txt(641, 357.5, T3 + '/Sm', 4.5, '#3cc6c9');
txt(599, 356, T3 + '/RGO', 5.5, '#8cc45a');
txt(593, 376.5, '(uniaxis)', 5);
txt(653, 376.5, '(biaxis)', 5);
txt(549, 339.5, T3 + '/PVA', 4.8, '#e0338f');
txt(561, 345.5, 'Fiber', 4.8, '#e0338f');
txt(576, 347.5, T3 + '/BC', 5, '#4b3aa0');
txt(568, 376.5, 'AC//' + T3 + '/', 3.8, '#2a4fb0');
txt(569, 381, 'Elastomer', 3.8, '#2a4fb0');
txt(549, 361, 'E-MXene', 4.2, '#31b5e0');
txt(549, 369.5, T3, 4.8, '#31b5e0');
</script>
</body>
</html>
